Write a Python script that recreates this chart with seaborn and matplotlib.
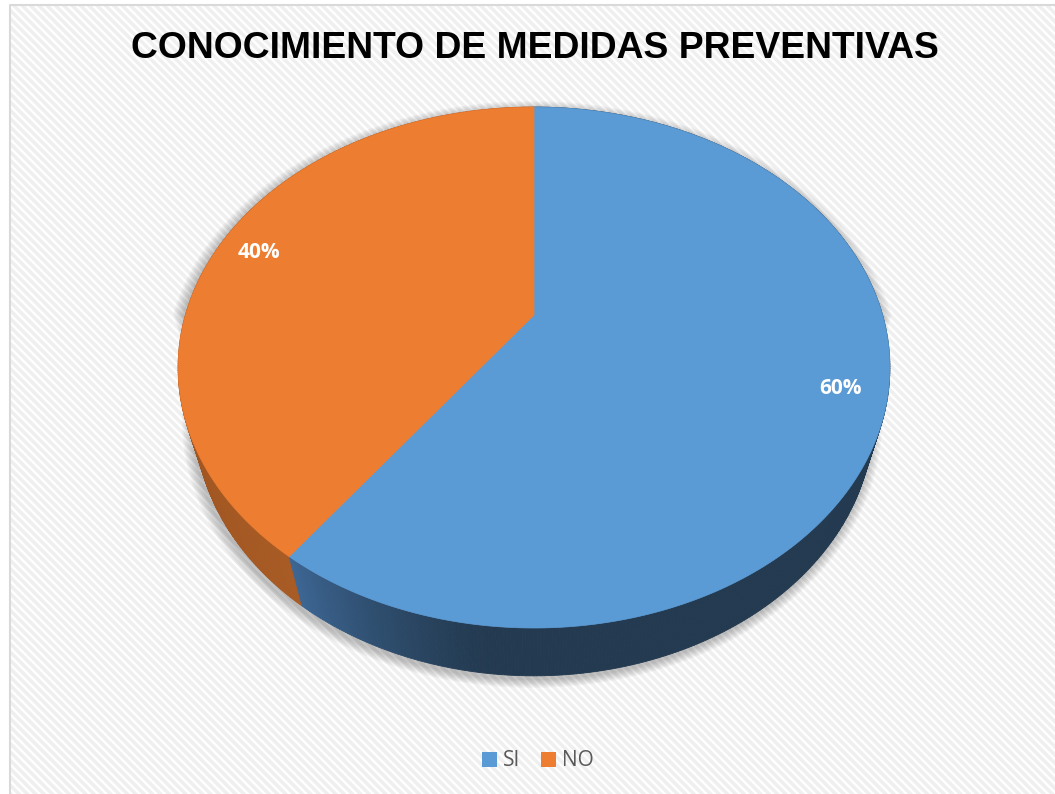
import numpy as np
import matplotlib.pyplot as plt
import seaborn as sns
from matplotlib.patches import Polygon, Rectangle, Patch
from matplotlib.colors import to_rgb

categorias = ["SI", "NO"]
porcentajes = [60, 40]
colores = ["#5B9BD5", "#ED7D31"]
# side wall colours (light end, dark end) for each slice
paredes = [("#3d6795", "#233a50"), ("#a85b24", "#9a501e")]
titulo = "CONOCIMIENTO DE MEDIDAS PREVENTIVAS"

sns.set_theme(style="white")
plt.rcParams["hatch.linewidth"] = 2.5

# perspective camera fitted by eye to the reference
CX, CY = 534, 315
F, D = 1205, 3.457
ELEV = np.radians(45.8)
S, C = np.sin(ELEV), np.cos(ELEV)
H = 0.227


def proj(theta, r=1.0, z=0.0):
    t = np.radians(theta)
    x = r * np.sin(t)
    d = r * np.cos(t)
    v = d * S + z * C
    w = D + d * C - z * S
    return CX + F * x / w, CY - F * v / w, w


fig = plt.figure(figsize=(10.55, 7.94), dpi=100)
fig.patch.set_facecolor("white")
ax = fig.add_axes([0, 0, 1, 1])
ax.set_xlim(0, 1055)
ax.set_ylim(794, 0)
ax.axis("off")

# hatched chart area + border
ax.add_patch(Rectangle((10, 5), 1100, 900, facecolor="white", edgecolor="#efefef",
                       hatch="\\\\\\\\", lw=0, zorder=0))
ax.plot([10, 10, 1100], [900, 5, 5], color="#d9d9d9", lw=1.5, zorder=1)

# slice angles (clockwise from the back)
total = sum(porcentajes)
bordes = np.concatenate([[0], np.cumsum(porcentajes) / total * 360])

# soft shadow under the pie
th = np.linspace(0, 360, 721)
sx, sy = [], []
for a in th:
    z = 0.0 if np.cos(np.radians(a)) > 0 else -H
    px, py, _ = proj(a, 1.0, z)
    sx.append(px)
    sy.append(py)
sx, sy = np.array(sx), np.array(sy)
for k in range(1, 8):
    f = 1 + 0.0045 * k
    pts = np.column_stack([CX + (sx - CX) * f - 2, 390 + (sy - 390) * f + 3])
    ax.add_patch(Polygon(pts, closed=True, facecolor="black", edgecolor="none",
                         alpha=0.035, zorder=2))

# side walls as small quads, back to front
quads = []
for i in range(len(categorias)):
    a0, a1 = bordes[i], bordes[i + 1]
    light, dark = np.array(to_rgb(paredes[i][0])), np.array(to_rgb(paredes[i][1]))
    angs = np.linspace(a0, a1, int((a1 - a0) * 2) + 2)
    for j in range(len(angs) - 1):
        t0, t1 = angs[j], angs[j + 1]
        x0, y0, w0 = proj(t0)
        x1, y1, w1 = proj(t1)
        x2, y2, _ = proj(t1, z=-H)
        x3, y3, _ = proj(t0, z=-H)
        if i == 0:
            g = np.clip((t0 - 185) / (216 - 185), 0, 1) ** 1.3
        else:
            g = np.clip((270 - t0) / 54, 0, 1)
        col = dark + (light - dark) * g
        quads.append(((w0 + w1) / 2, [(x0, y0), (x1, y1), (x2, y2), (x3, y3)], col))
quads.sort(key=lambda q: -q[0])
for _, pts, col in quads:
    ax.add_patch(Polygon(pts, closed=True, facecolor=col, edgecolor=col, lw=0.6, zorder=3))

# top faces
for i in range(len(categorias)):
    angs = np.linspace(bordes[i], bordes[i + 1], 300)
    pts = [(CX, CY)] + [proj(a)[:2] for a in angs]
    ax.add_patch(Polygon(pts, closed=True, facecolor=colores[i], edgecolor=colores[i],
                         lw=0.5, zorder=4))

# percentage labels
for i in range(len(categorias)):
    mid = (bordes[i] + bordes[i + 1]) / 2
    lx, ly, _ = proj(mid, 0.875)
    ax.text(lx, ly + 2, f"{porcentajes[i]}%", ha="center", va="center", color="white",
            fontsize=15, fontweight="bold", family=["Open Sans", "DejaVu Sans"], zorder=5)

ax.text(535, 49, titulo, ha="center", va="center", fontsize=26.8, fontweight="bold",
        family=["Liberation Sans", "DejaVu Sans"], color="black", zorder=5)

handles = [Patch(facecolor=colores[i], edgecolor="none", label=categorias[i])
           for i in range(len(categorias))]
fig.legend(handles=handles, loc="center", bbox_to_anchor=(538 / 1055, 1 - 761 / 794),
           ncol=2, frameon=False, handlelength=0.7, handleheight=0.7,
           handletextpad=0.3, columnspacing=1.0, labelcolor="#595959",
           prop={"family": ["Open Sans", "DejaVu Sans"], "size": 15})

fig.savefig("out.png", dpi=100)
